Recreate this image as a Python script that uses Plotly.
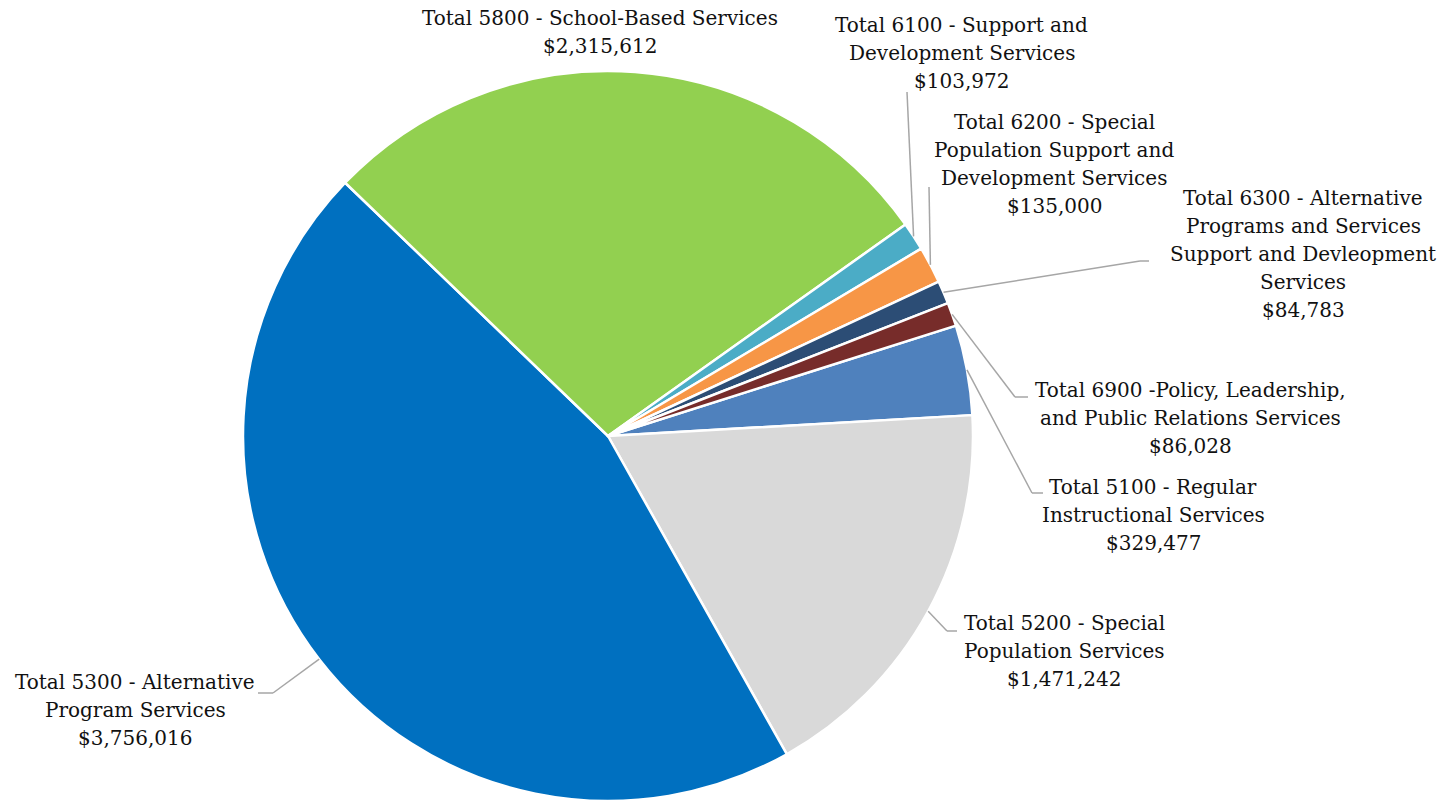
import math
import plotly.graph_objects as go

W, H = 1451, 801

# Expenditure totals by function code
categories = [
    "Total 5100 - Regular Instructional Services",
    "Total 5200 - Special Population Services",
    "Total 5300 - Alternative Program Services",
    "Total 5800 - School-Based Services",
    "Total 6100 - Support and Development Services",
    "Total 6200 - Special Population Support and Development Services",
    "Total 6300 - Alternative Programs and Services Support and Devleopment Services",
    "Total 6900 -Policy, Leadership, and Public Relations Services",
]
amounts = [329477, 1471242, 3756016, 2315612, 103972, 135000, 84783, 86028]

# Wrapped label text as it appears beside the pie
label_lines = [
    ["Total 5100 - Regular", "Instructional Services"],
    ["Total 5200 - Special", "Population Services"],
    ["Total 5300 - Alternative", "Program Services"],
    ["Total 5800 - School-Based Services"],
    ["Total 6100 - Support and", "Development Services"],
    ["Total 6200 - Special", "Population Support and", "Development Services"],
    ["Total 6300 - Alternative", "Programs and Services", "Support and Devleopment", "Services"],
    ["Total 6900 -Policy, Leadership,", "and Public Relations Services"],
]

colors = ["#4F81BD", "#D9D9D9", "#0070C0", "#92D050",
          "#4BACC6", "#F79646", "#2C4D75", "#772C2A"]

# Pie geometry (pixels)
CX, CY, R = 608, 436, 365
ROTATION = 72.4
LINE_GAP = 28

# Label centre positions and leader-line elbows (pixels); None = no leader
label_pos = [(1153, 515), (1064, 651), (135, 710), (600, 32),
             (962, 53), (1054, 164), (1303, 254), (1190, 418)]
leader_elbow = [(1032, 493), (947, 631), (273, 693), None,
                (907, 92), (929, 187), (1140, 261), (1015, 397)]
leader_end = [(1043, 493), (957, 631), (258, 693), None,
              None, None, (1149, 261), (1028, 397)]


def px(x, y):
    return x / W, 1 - y / H


fig = go.Figure()
fig.add_trace(go.Pie(
    labels=categories,
    values=amounts,
    sort=False,
    direction="clockwise",
    rotation=ROTATION,
    marker=dict(colors=colors, line=dict(color="white", width=2.5)),
    textinfo="none",
    hoverinfo="label+value",
    showlegend=False,
    domain=dict(x=[(CX - R) / W, (CX + R) / W], y=[1 - (CY + R) / H, 1 - (CY - R) / H]),
))

total = sum(amounts)
shapes = []
annotations = []
start = ROTATION
for i, v in enumerate(amounts):
    span = v / total * 360
    mid = math.radians(start + span / 2)
    start += span
    ex, ey = CX + R * math.sin(mid), CY - R * math.cos(mid)

    pts = [(ex, ey)]
    if leader_elbow[i] is not None:
        pts.append(leader_elbow[i])
        if leader_end[i] is not None:
            pts.append(leader_end[i])
        for (x0, y0), (x1, y1) in zip(pts[:-1], pts[1:]):
            a0, b0 = px(x0, y0)
            a1, b1 = px(x1, y1)
            shapes.append(dict(type="line", xref="paper", yref="paper",
                               x0=a0, y0=b0, x1=a1, y1=b1,
                               line=dict(color="#A6A6A6", width=1.5)))

    lines = label_lines[i] + ["${:,}".format(v)]
    cx, cy = label_pos[i]
    top = cy - LINE_GAP * (len(lines) - 1) / 2
    for k, line in enumerate(lines):
        lx, ly = px(cx, top + k * LINE_GAP)
        annotations.append(dict(
            x=lx, y=ly, xref="paper", yref="paper",
            text=line, showarrow=False, align="center",
            xanchor="center", yanchor="middle",
            font=dict(family="DejaVu Serif", size=20, color="#111111"),
        ))

fig.update_layout(
    width=W, height=H,
    margin=dict(l=0, r=0, t=0, b=0),
    paper_bgcolor="white",
    plot_bgcolor="white",
    shapes=shapes,
    annotations=annotations,
)

fig.write_html("out.html")
